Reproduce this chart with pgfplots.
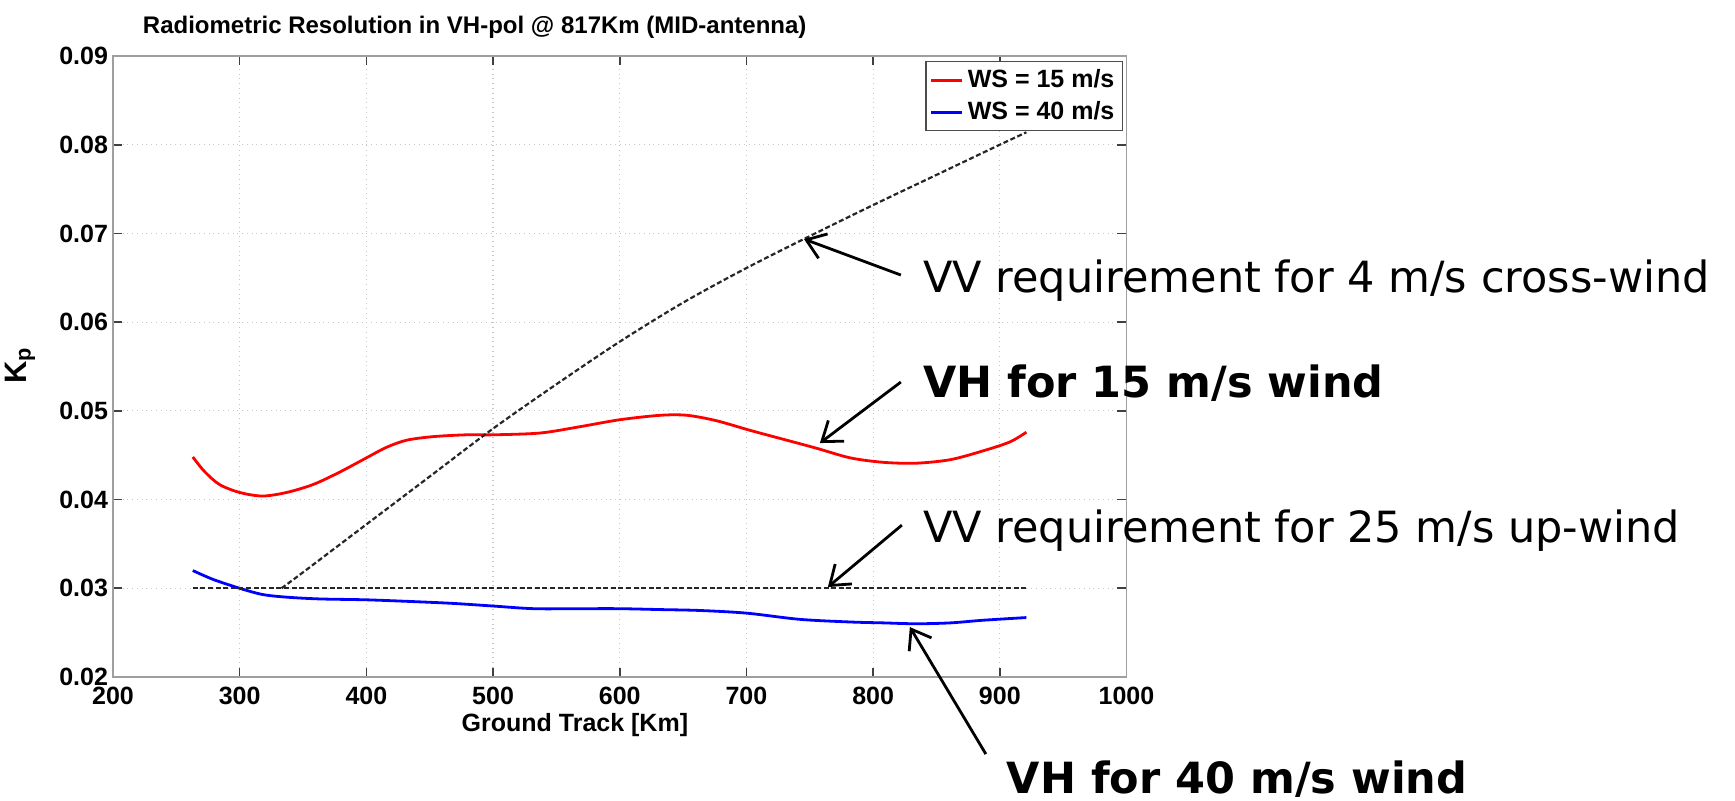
\documentclass[border=0pt]{standalone}
\usepackage{pgfplots}
\pgfplotsset{compat=1.18}
\usetikzlibrary{arrows.meta}
\usepackage{fontspec}
\setmainfont{Liberation Sans}
\newfontfamily\dejavu{DejaVu Sans}

\begin{document}
\begin{tikzpicture}
\begin{axis}[
  at={(56.5bp,62bp)}, anchor=south west,
  scale only axis, width=506.75bp, height=310.5bp,
  xmin=200, xmax=1000, ymin=0.02, ymax=0.09,
  xtick={200,300,400,500,600,700,800,900,1000},
  ytick={0.02,0.03,0.04,0.05,0.06,0.07,0.08,0.09},
  scaled y ticks=false,
  clip=false,
  grid=major,
  major grid style={gray!45, dotted, line width=0.6bp},
  axis line style={gray!75, line width=0.8bp},
  tick style={gray!50!black, line width=0.8bp},
  major tick length=4.5bp,
  tick align=inside,
  /pgf/number format/assume math mode=true,
  ticklabel style={font=\bfseries\fontsize{12.5bp}{14bp}\selectfont},
  yticklabel style={/pgf/number format/fixed, /pgf/number format/fixed zerofill, /pgf/number format/precision=2, xshift=1bp},
  xticklabel style={/pgf/number format/1000 sep={}, yshift=-1.5bp},
  legend style={at={(rel axis cs:1,1)}, anchor=north east, xshift=-1.75bp, yshift=-2.5bp,
    draw=gray!60!black, line width=0.6bp,
    font=\bfseries\fontsize{12.5bp}{13bp}\selectfont,
    inner xsep=2bp, inner ysep=2bp, row sep=1.5bp, cells={anchor=west}},
  legend image code/.code={\draw[#1] (0bp,0bp) -- (15.5bp,0bp);},
]
\addplot[color=red, line width=1.4bp, smooth, tension=0.5] table {
x y
263 0.0448
272 0.0432
284 0.0417
300 0.0408
318 0.0404
337 0.0408
358 0.0417
379 0.0431
400 0.0447
416 0.0459
432 0.0467
453 0.0471
479 0.0473
500 0.0473
537 0.0475
568 0.0482
600 0.0490
632 0.0495
653 0.0495
676 0.0489
703 0.0478
729 0.0468
755 0.0458
782 0.0447
808 0.0442
834 0.0441
861 0.0445
887 0.0455
908 0.0465
921 0.0476
};
\addlegendentry{WS = 15 m/s}
\addplot[color=blue, line width=1.4bp, smooth, tension=0.5] table {
x y
263 0.0320
279 0.0310
300 0.0300
318 0.0293
337 0.0290
363 0.0288
400 0.0287
437 0.0285
468 0.0283
500 0.0280
532 0.0277
568 0.0277
600 0.0277
632 0.0276
663 0.0275
700 0.0272
742 0.0265
782 0.0262
808 0.0261
834 0.0260
861 0.0261
887 0.0264
921 0.0267
};
\addlegendentry{WS = 40 m/s}
\addplot[forget plot, color=black!85, line width=1.1bp, dash pattern=on 2.5bp off 1.3bp] table {
x y
263 0.0300
921 0.0300
};
\addplot[forget plot, color=black!85, line width=1.1bp, dash pattern=on 2.5bp off 1.3bp, smooth, tension=0.5] table {
x y
333 0.0300
350 0.0318
400 0.0372
450 0.0426
500 0.0480
550 0.0530
600 0.0578
650 0.0622
700 0.0661
750 0.0697
800 0.0732
850 0.0766
900 0.0800
921 0.0814
};

% title and axis labels
\node[anchor=base, inner sep=0, font=\bfseries\fontsize{12bp}{14bp}\selectfont] at (axis cs:485.5,0.09259) {Radiometric Resolution in VH-pol @ 817Km (MID-antenna)};
\node[anchor=base, inner sep=0, font=\bfseries\fontsize{12.5bp}{14bp}\selectfont] at (axis cs:564.6,0.01382) {Ground Track [Km]};
\node[rotate=90, anchor=center, inner sep=0, font=\bfseries\fontsize{15.5bp}{17bp}\selectfont] at (axis cs:126.6,0.05516) {K\textsubscript{p}};

% annotations
\node[anchor=base west, inner sep=0, font=\dejavu\fontsize{21.5bp}{24bp}\selectfont] at (axis cs:839.3,0.06339) {VV requirement for 4 m/s cross-wind};
\node[anchor=base west, inner sep=0, font=\dejavu\bfseries\fontsize{21.5bp}{24bp}\selectfont] at (axis cs:839.3,0.05156) {VH for 15 m/s wind};
\node[anchor=base west, inner sep=0, font=\dejavu\fontsize{21.5bp}{24bp}\selectfont] at (axis cs:839.3,0.03521) {VV requirement for 25 m/s up-wind};
\node[anchor=base west, inner sep=0, font=\dejavu\bfseries\fontsize{21.5bp}{24bp}\selectfont] at (axis cs:905.2,0.00690) {VH for 40 m/s wind};

\draw[line width=1.4bp, -{Straight Barb[length=9bp,width=13bp]}] (axis cs:821.9,0.06531) -- (axis cs:745.4,0.06937);
\draw[line width=1.4bp, -{Straight Barb[length=9bp,width=13bp]}] (axis cs:821.9,0.05325) -- (axis cs:758.0,0.04637);
\draw[line width=1.4bp, -{Straight Barb[length=9bp,width=13bp]}] (axis cs:822.7,0.03712) -- (axis cs:764.3,0.03014);
\draw[line width=1.4bp, -{Straight Barb[length=9bp,width=13bp]}] (axis cs:889.0,0.01131) -- (axis cs:829.0,0.02563);
\end{axis}
\pgfresetboundingbox
\path[use as bounding box] (0bp,0bp) rectangle (867.5bp,400.5bp);
\end{tikzpicture}
\end{document}
